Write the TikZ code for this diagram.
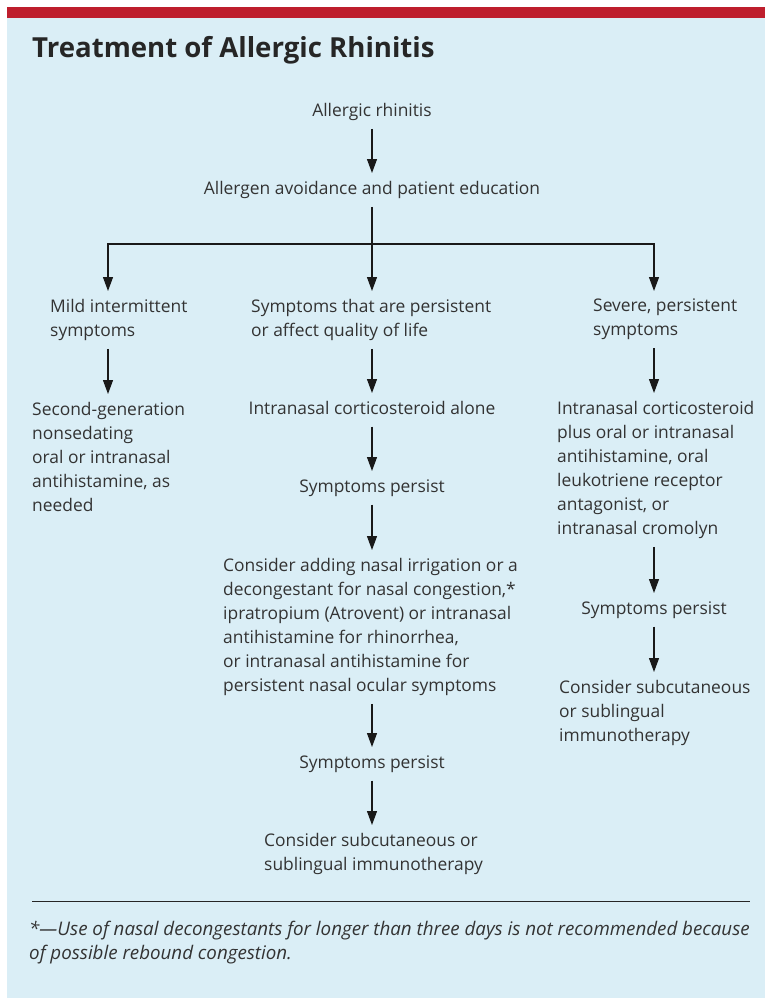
\documentclass[tikz,border=0pt]{standalone}
\usepackage{fontspec}
\setmainfont{Open Sans}
\usetikzlibrary{positioning,calc,arrows.meta}
\definecolor{panelblue}{HTML}{DAEEF6}
\definecolor{barred}{HTML}{BE1E2D}
\definecolor{inkgrey}{HTML}{333333}
\newcommand{\linestrut}{\rule[-4pt]{0pt}{17pt}}

\begin{document}
\begin{tikzpicture}[x=1pt,y=-1pt]
    \tikzstyle{txt} = [inner sep=0pt, text=inkgrey, align=left,
      font=\fontsize{17.4}{24}\selectfont,
      execute at begin node=\linestrut, execute at end node=\linestrut]
    \tikzstyle{arr} = [-{Triangle[length=14pt,width=10pt]}, line width=1.2pt,
      draw=black!90, shorten <=8pt, shorten >=8pt]

    % panel
    \fill[white] (0,0) rectangle (765,998);
    \fill[panelblue] (7,18) rectangle (765,998);
    \fill[barred] (7,7) rectangle (765,18);
    \useasboundingbox (0,0) rectangle (765,998);

    \node[anchor=base west, inner sep=0pt, text=black!85,
      font=\fontsize{27.6}{32}\selectfont\bfseries] (title) at (32,58)
      {Treatment of Allergic Rhinitis};

    % columns
    \coordinate (colL) at (108,0);
    \coordinate (colM) at (372,0);
    \coordinate (colR) at (654,0);
    \coordinate (split) at (372,244);

    \node[txt, anchor=north] (rhin) at (372,103) {Allergic rhinitis};
    \node[txt, anchor=north] (avoid) at (372,181) {Allergen avoidance and patient education};

    \node[txt, anchor=north west] (mild) at (50,299) {Mild intermittent\\symptoms};
    \node[txt, anchor=north west] (pers) at (251,299) {Symptoms that are persistent\\or affect quality of life};
    \node[txt, anchor=north west] (severe) at (593,299) {Severe, persistent\\symptoms};

    % left column
    \node[txt, anchor=north west] (second) at (32,402)
      {Second-generation\\nonsedating\\oral or intranasal\\antihistamine, as\\needed};

    % middle column
    \node[txt, anchor=north] (ics) at (372,401) {Intranasal corticosteroid alone};
    \node[txt, anchor=north] (persA) at (372,479) {Symptoms persist};
    \node[txt, anchor=north west] (adding) at (223,558)
      {Consider adding nasal irrigation or a\\decongestant for nasal congestion,*\\
       ipratropium (Atrovent) or intranasal\\antihistamine for rhinorrhea,\\
       or intranasal antihistamine for\\persistent nasal ocular symptoms};
    \node[txt, anchor=north] (persB) at (372,755) {Symptoms persist};
    \node[txt, anchor=north west] (immunoM) at (264,833)
      {Consider subcutaneous or\\sublingual immunotherapy};

    % right column
    \node[txt, anchor=north west] (combo) at (557,401)
      {Intranasal corticosteroid\\plus oral or intranasal\\antihistamine, oral\\
       leukotriene receptor\\antagonist, or\\intranasal cromolyn};
    \node[txt, anchor=north] (persC) at (654,601) {Symptoms persist};
    \node[txt, anchor=north west] (immunoR) at (559,680)
      {Consider subcutaneous\\or sublingual\\immunotherapy};

    % connections
    \draw[arr] (rhin.south -| colM) -- (avoid.north -| colM);
    \draw[arr] (avoid.south -| colM) -- (pers.north -| colM);
    \draw[arr, shorten <=0pt] (split) -| (mild.north -| colL);
    \draw[arr, shorten <=0pt] (split) -| (severe.north -| colR);

    \draw[arr] (mild.south -| colL) -- (second.north -| colL);

    \draw[arr] (pers.south -| colM) -- (ics.north -| colM);
    \draw[arr] (ics.south -| colM) -- (persA.north -| colM);
    \draw[arr] (persA.south -| colM) -- (adding.north -| colM);
    \draw[arr] (adding.south -| colM) -- (persB.north -| colM);
    \draw[arr] (persB.south -| colM) -- (immunoM.north -| colM);

    \draw[arr] (severe.south -| colR) -- (combo.north -| colR);
    \draw[arr] (combo.south -| colR) -- (persC.north -| colR);
    \draw[arr] (persC.south -| colR) -- (immunoR.north -| colR);

    % footnote
    \draw[line width=1pt, black!85] (32,901) -- (750,901);
    \node[txt, anchor=north west, font=\itshape\fontsize{18.75}{24}\selectfont] (note) at (29,921)
      {*---Use of nasal decongestants for longer than three days is not recommended because\\
       of possible rebound congestion.};
\end{tikzpicture}
\end{document}
